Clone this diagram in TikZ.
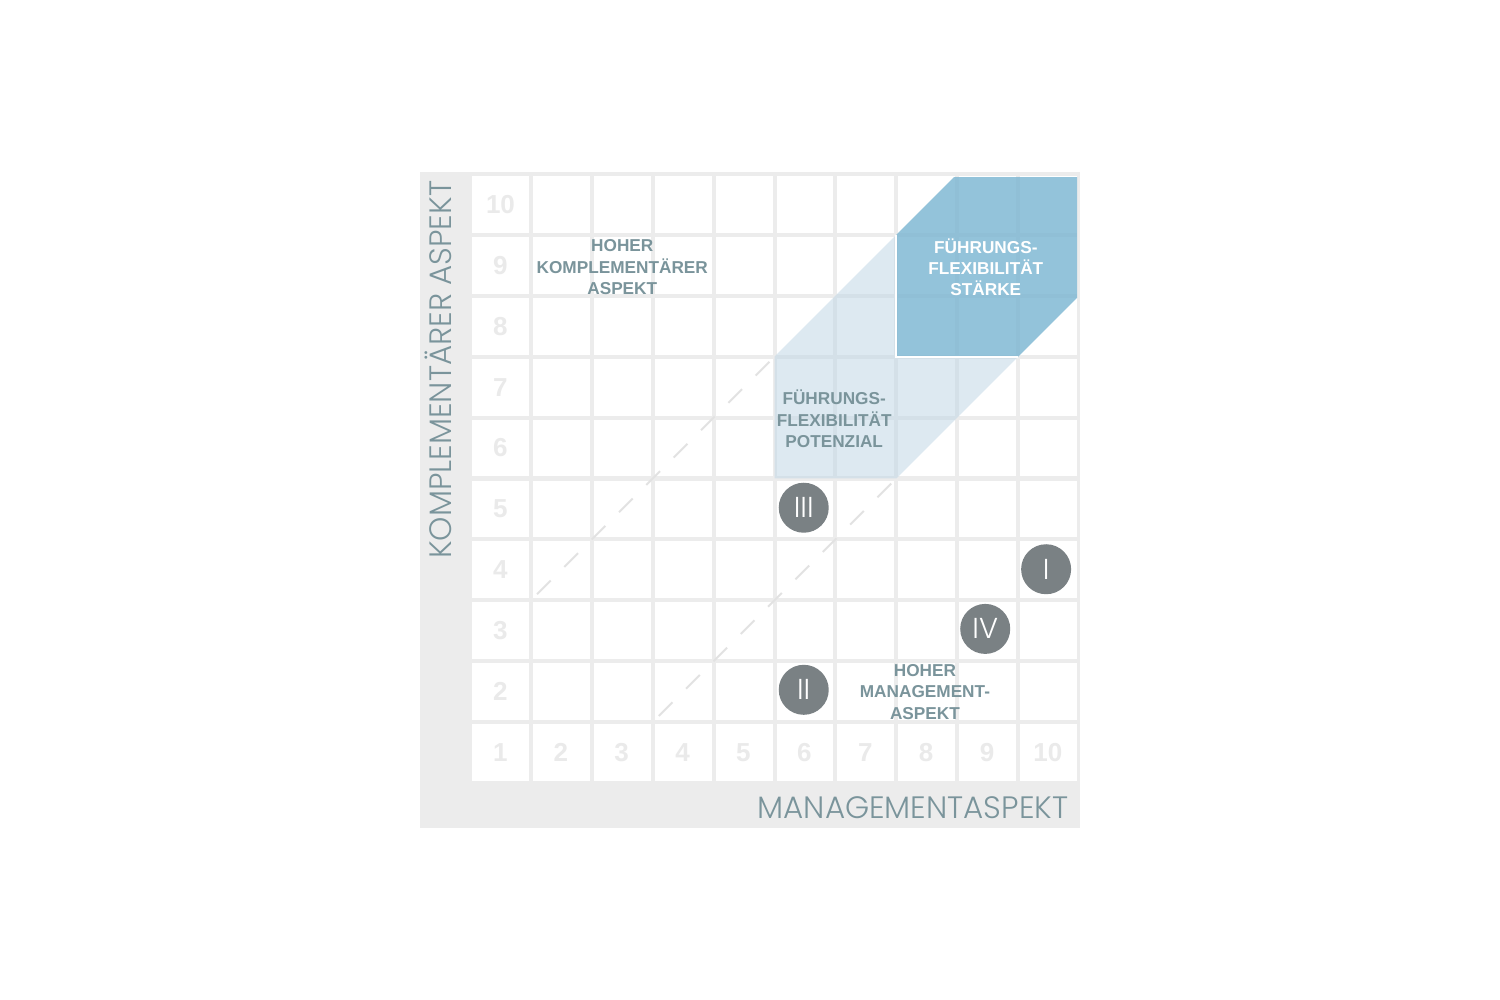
\documentclass[tikz,border=0pt]{standalone}
\usepackage{fontspec}
\setmainfont{Liberation Sans}
\newfontfamily\axisfont{Poppins Light}
\definecolor{gridgrey}{RGB}{236,236,236}
\definecolor{numgrey}{RGB}{234,234,234}
\definecolor{dashgrey}{RGB}{226,226,226}
\definecolor{labelteal}{RGB}{122,148,155}
\definecolor{markergrey}{RGB}{122,129,132}
\definecolor{softblue}{RGB}{189,213,229}
\definecolor{strongblue}{RGB}{121,180,209}
\tikzset{%
  cellbox/.style   = {fill=white},%
  cellnum/.style   = {font=\fontsize{7.4}{8}\selectfont\bfseries, text=numgrey},%
  zonelabel/.style = {align=center, text=labelteal,%
                      font=\fontsize{4.9}{6.1}\selectfont\bfseries},%
  axislabel/.style = {inner sep=0pt, text=labelteal,%
                      font=\axisfont\fontsize{8.8}{10}\selectfont},%
  marker/.style    = {circle, fill=markergrey, inner sep=0pt,%
                      minimum size=0.5cm, text=white,%
                      font=\axisfont\fontsize{8.2}{9}\selectfont},%
  diagline/.style  = {draw=dashgrey, line width=0.57pt,%
                      dash pattern=on 5.5pt off 5.5pt}%
}
\begin{document}
\begin{tikzpicture}[x=0.609cm, y=0.609cm]%
	\useasboundingbox (-7.718,-3.563) rectangle (16.913,12.857);%
	% grey frame and white cells
	\fill[gridgrey] (-0.821,-0.739) rectangle (10.016,10.033);%
	\foreach \i in {1,...,10}%
		\foreach \j in {1,...,10}%
			\fill[cellbox] (\i-0.967,\j-0.967) rectangle (\i-0.033,\j-0.033);%
	% diagonals
	\draw[diagline] (1.1,3.1) -- (5,7);%
	\draw[diagline] (3.1,1.1) -- (7,5);%
	% flexibility zones
	\fill[softblue, fill opacity=0.5] (5,5) -- (5,7) -- (7,9) -- (7,7) -- (9,7) -- (7,5) -- cycle;%
	\begin{scope}%
		\clip (0.033,0.033) rectangle (9.967,9.95);%
		\fill[strongblue, fill opacity=0.8] (7,7) -- (7,9) -- (8,10) -- (10,10) -- (10,8) -- (9,7) -- cycle;%
	\end{scope}%
	\draw[white, line width=0.6pt] (7,9) -- (7,7) -- (9,7);%
	% scale numbers
	\foreach \n in {1,...,10}%
		\node[cellnum] (row\n) at (0.5,\n-0.5) {\n};%
	\foreach \n in {2,...,10}%
		\node[cellnum] (col\n) at (\n-0.51,0.5) {\n};%
	% zone labels
	\node[zonelabel] (highcompl) at (2.5,8.47) {HOHER\\KOMPLEMENTÄRER\\ASPEKT};%
	\node[zonelabel, text=white] (strength) at (8.47,8.47) {FÜHRUNGS-\\FLEXIBILITÄT\\STÄRKE};%
	\node[zonelabel] (potential) at (5.98,5.98) {FÜHRUNGS-\\FLEXIBILITÄT\\POTENZIAL};%
	\node[zonelabel] (highmgmt) at (7.47,1.5) {HOHER\\MANAGEMENT-\\ASPEKT};%
	% cases
	\node[marker] (caseI)   at (9.46,3.51) {I};%
	\node[marker] (caseII)  at (5.48,1.53) {II};%
	\node[marker] (caseIII) at (5.48,4.52) {III};%
	\node[marker] (caseIV)  at (8.46,2.53) {IV};%
	% axes
	\node[axislabel, anchor=base east] (xaxis) at (9.836,-0.575) {MANAGEMENTASPEKT};%
	\node[axislabel, rotate=90, anchor=base east] (yaxis) at (-0.312,9.90) {KOMPLEMENTÄRER ASPEKT};%
\end{tikzpicture}
\end{document}
